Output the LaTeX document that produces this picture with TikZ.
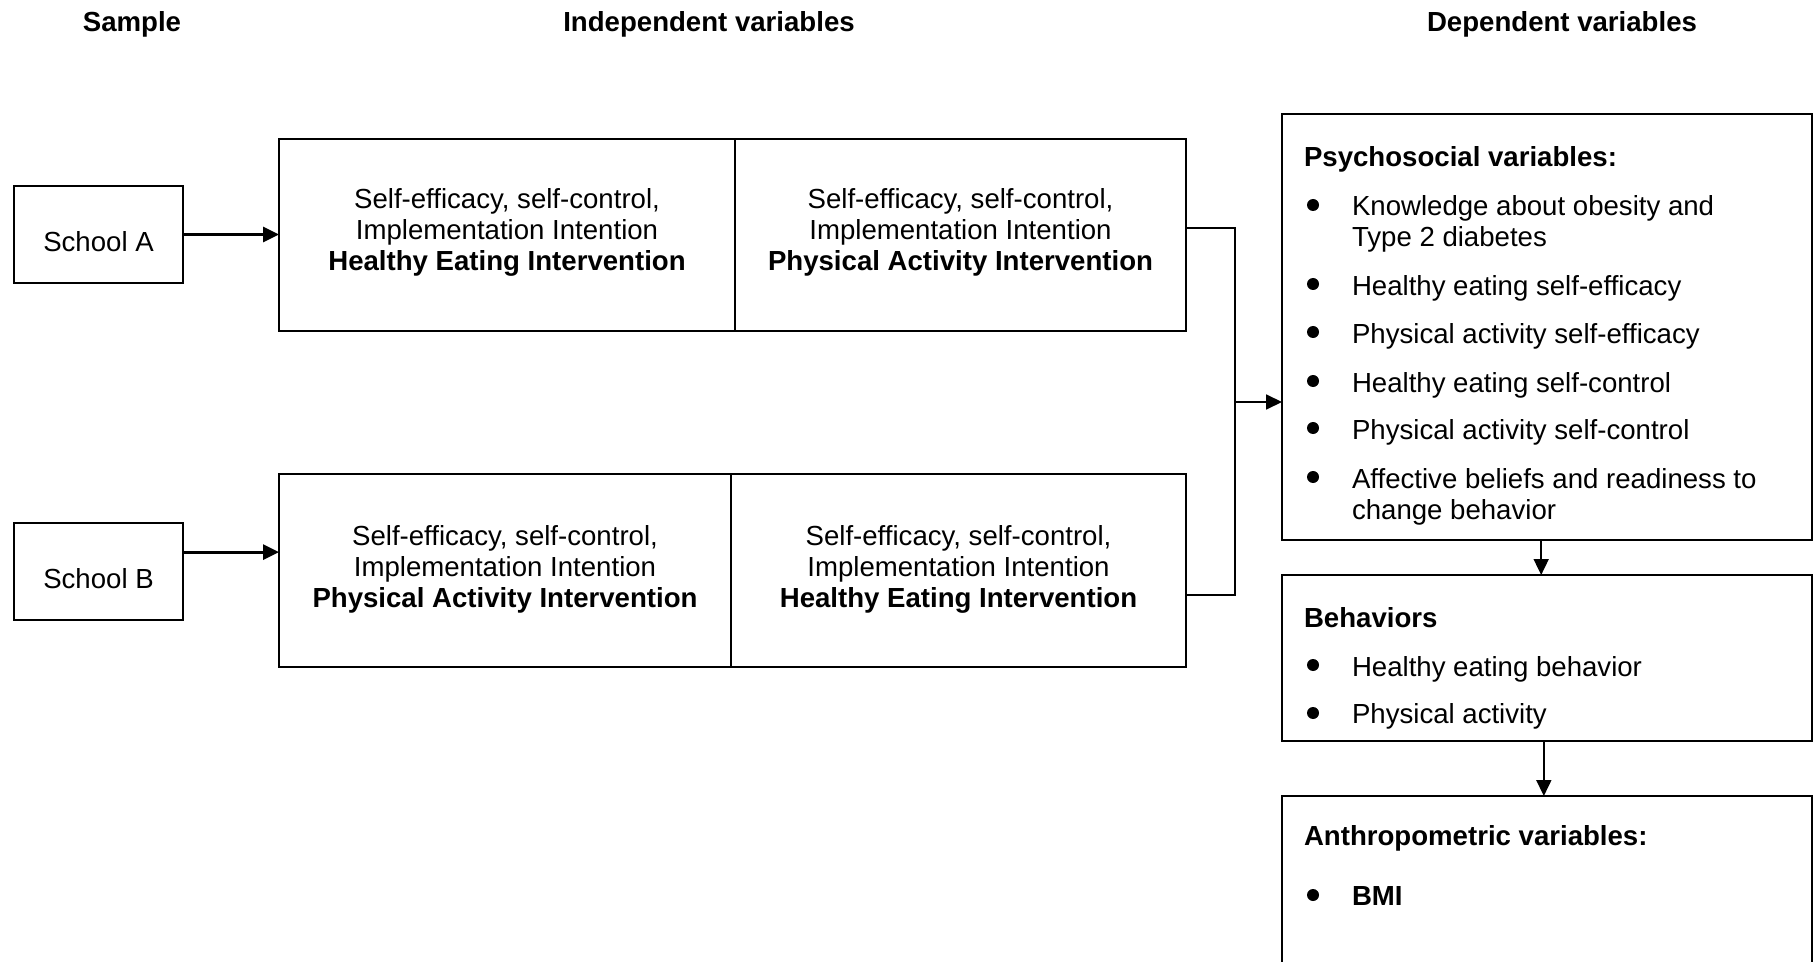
\documentclass[tikz,border=0pt]{standalone}
\usepackage{fontspec}
\setmainfont{Liberation Sans}
\usetikzlibrary{arrows.meta,fit,calc}
\begin{document}
\begin{tikzpicture}[x=0.5pt,y=-0.5pt,
  box/.style={draw, line width=0.9pt, inner sep=0pt, outer sep=0pt},
  txt/.style={font=\fontsize{13.8}{15.5}\selectfont, inner sep=0pt, outer sep=0pt},
  hdr/.style={txt, font=\fontsize{13.8}{15.5}\selectfont\bfseries},
  mid/.style={txt, align=center},
  item/.style={txt, anchor=base west, align=left},
  dot/.style={fill=black},
  conn/.style={line width=0.9pt},
  arr/.style={line width=0.9pt, -{Triangle[length=8pt,width=7.5pt]}},
  thickarr/.style={line width=1.4pt, -{Triangle[length=8pt,width=7.5pt]}}]
\useasboundingbox (0,0) rectangle (1813,962);
\clip (0,0) rectangle (1813,962);

% column headings
\node[hdr, anchor=base] (hSample) at (132,32) {Sample};
\node[hdr, anchor=base] (hIndep) at (709,32) {Independent variables};
\node[hdr, anchor=base] (hDep) at (1562,32) {Dependent variables};

% schools
\node[box, fit={(14,186) (183,283)}] (schoolA) {};
\node[txt, anchor=base] (tA) at (98.5,252) {School A};
\node[box, fit={(14,523) (183,620)}] (schoolB) {};
\node[txt, anchor=base] (tB) at (98.5,588) {School B};

% intervention sequences
\node[box, fit={(279,139) (735,331)}] (ia1) {};
\node[box, fit={(735,139) (1186,331)}] (ia2) {};
\node[box, fit={(279,474) (731,667)}] (ib1) {};
\node[box, fit={(731,474) (1186,667)}] (ib2) {};

\node[mid] (tia1) at (ia1.center |- 0,232.5) {Self-efficacy, self-control,\\Implementation Intention\\\textbf{Healthy Eating Intervention}};
\node[mid] (tia2) at (ia2.center |- 0,232.5) {Self-efficacy, self-control,\\Implementation Intention\\\textbf{Physical Activity Intervention}};
\node[mid] (tib1) at (ib1.center |- 0,569) {Self-efficacy, self-control,\\Implementation Intention\\\textbf{Physical Activity Intervention}};
\node[mid] (tib2) at (ib2.center |- 0,569) {Self-efficacy, self-control,\\Implementation Intention\\\textbf{Healthy Eating Intervention}};

% outcome boxes
\node[box, fit={(1282,114) (1812,540)}] (psych) {};
\node[box, fit={(1282,575) (1812,741)}] (behav) {};
\node[box, fit={(1282,796) (1812,1010)}] (anthro) {};

% psychosocial variables (a two-line item sits on the baseline of its last line)
\node[txt, anchor=base west, font=\fontsize{13.8}{15.5}\selectfont\bfseries] (pTitle) at (1304,167) {Psychosocial variables:};
\fill[dot] (1313,205) circle[radius=3pt];
\node[item] (p1) at (1352,247) {Knowledge about obesity and\\Type 2 diabetes};
\fill[dot] (1313,284) circle[radius=3pt];
\node[item] (p2) at (1352,295.5) {Healthy eating self-efficacy};
\fill[dot] (1313,332) circle[radius=3pt];
\node[item] (p3) at (1352,343.5) {Physical activity self-efficacy};
\fill[dot] (1313,381) circle[radius=3pt];
\node[item] (p4) at (1352,392.5) {Healthy eating self-control};
\fill[dot] (1313,428) circle[radius=3pt];
\node[item] (p5) at (1352,439.5) {Physical activity self-control};
\fill[dot] (1313,477) circle[radius=3pt];
\node[item] (p6) at (1352,519.5) {Affective beliefs and readiness to\\change behavior};

% behaviors
\node[txt, anchor=base west, font=\fontsize{13.8}{15.5}\selectfont\bfseries] (bTitle) at (1304,627) {Behaviors};
\fill[dot] (1313,665) circle[radius=3pt];
\node[item] (b1) at (1352,676) {Healthy eating behavior};
\fill[dot] (1313,713) circle[radius=3pt];
\node[item] (b2) at (1352,723) {Physical activity};

% anthropometric variables
\node[txt, anchor=base west, font=\fontsize{13.8}{15.5}\selectfont\bfseries] (aTitle) at (1304,845) {Anthropometric variables:};
\fill[dot] (1313,895) circle[radius=3pt];
\node[item, font=\fontsize{13.8}{15.5}\selectfont\bfseries] (a1) at (1352,905) {BMI};

% connectors
\draw[thickarr] (schoolA.east) -- (ia1.west |- schoolA.east);
\coordinate (outB) at ($(schoolB.north east)!0.3!(schoolB.south east)$);
\draw[thickarr] (outB) -- (ib1.west |- outB);

\coordinate (endA) at ($(ia2.north east)!0.4635!(ia2.south east)$);
\coordinate (endB) at ($(ib2.north east)!0.627!(ib2.south east)$);
\coordinate (bus) at (1235,402);
\draw[conn] (endA) -| (bus) |- (endB);
\draw[arr] (bus) -- (psych.west |- bus);

\draw[arr] ($(psych.south west)!0.489!(psych.south east)$) -- ($(behav.north west)!0.489!(behav.north east)$);
\draw[arr] ($(behav.south west)!0.494!(behav.south east)$) -- ($(anthro.north west)!0.494!(anthro.north east)$);
\end{tikzpicture}
\end{document}
